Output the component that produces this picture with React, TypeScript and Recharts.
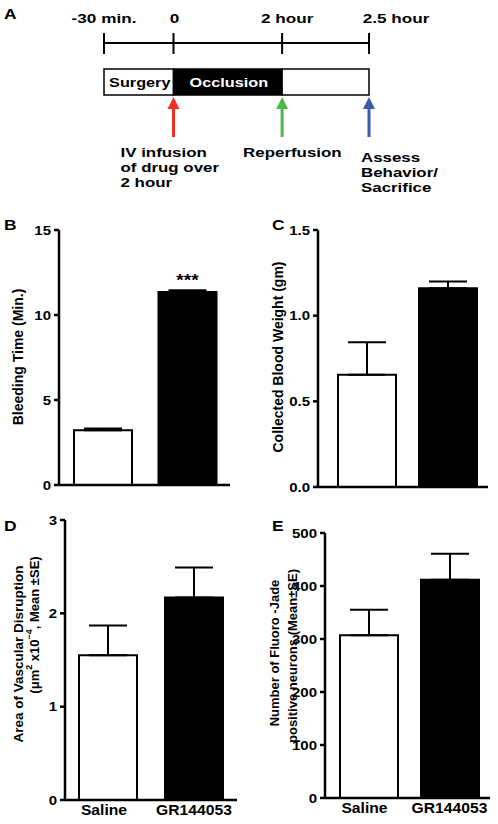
import React from "react";
import {
  BarChart,
  Bar,
  Cell,
  XAxis,
  YAxis,
  ErrorBar,
  LabelList,
  ComposedChart,
  ReferenceLine,
  ReferenceArea,
  ReferenceDot,
} from "recharts";

const FONT = '"Liberation Sans", Arial, Helvetica, sans-serif';

// Panel A: protocol timeline (schematic positions, not to scale)
const timeLabels = ["-30 min.", "0", "2 hour", "2.5 hour"];
const timePos = [0, 0.8, 2.05, 3.05];
const phaseNames = ["Surgery", "Occlusion", ""];
const phaseFills = ["#ffffff", "#000000", "#ffffff"];
const phaseText = ["#000000", "#ffffff", "#000000"];
const eventPos = [0.8, 2.05, 3.05];
const eventColors = ["#ee3124", "#4db848", "#3b5ba8"];
const eventText = [
  ["IV infusion", "of drug over", "2 hour"],
  ["Reperfusion"],
  ["Assess", "Behavior/", "Sacrifice"],
];

// Panels B-E
const groups = ["Saline", "GR144053"];
const groupFills = ["#ffffff", "#000000"];
const bleedingTime = [3.22, 11.35];
const bleedingTimeSE = [0.1, 0.1];
const bleedingSig = ["", "***"];
const bloodWeight = [0.655, 1.16];
const bloodWeightSE = [0.19, 0.04];
const vascularArea = [1.55, 2.17];
const vascularAreaSE = [0.32, 0.32];
const fjNeurons = [307, 412];
const fjNeuronsSE = [48, 49];

const axisStyle = { stroke: "#000", strokeWidth: 2.5 };

// the original figure is a bit stretched sideways, so horizontal text is widened
const SText = ({ x, y, sx = 1.25, size = 13, anchor = "middle", dy = 0, fill = "#000", children }: any) => (
  <text
    transform={`translate(${x},${y}) scale(${sx},1)`}
    dy={dy}
    textAnchor={anchor}
    fontSize={size}
    fontWeight={700}
    fontFamily={FONT}
    fill={fill}
  >
    {children}
  </text>
);

const Timeline = () => {
  const rows = timePos.map((p) => ({ pos: p }));
  const tickDx = [0, 1, 5, 27];
  const eventDx = [-53, -39, -8];
  const eventY = [157, 157, 162];
  return (
    <div style={{ position: "absolute", left: 0, top: 0 }}>
      <ComposedChart width={498} height={200} data={rows} margin={{ top: 0, right: 129, bottom: 0, left: 104 }}>
        <XAxis type="number" dataKey="pos" domain={[0, 3.05]} hide allowDataOverflow />
        <YAxis type="number" domain={[0, 200]} reversed hide allowDataOverflow />
        <ReferenceLine segment={[{ x: 0, y: 43 }, { x: 3.05, y: 43 }]} stroke="#000" strokeWidth={2} />
        {timePos.map((p, i) => (
          <ReferenceLine key={"t" + i} segment={[{ x: p, y: 33 }, { x: p, y: 54 }]} stroke="#000" strokeWidth={2} />
        ))}
        {timePos.map((p, i) => (
          <ReferenceDot
            key={"tl" + i}
            x={p}
            y={23}
            shape={(d: any) => (
              <SText x={d.cx + tickDx[i]} y={d.cy} sx={1.32}>
                {timeLabels[i]}
              </SText>
            )}
          />
        ))}
        {phaseNames.map((_name, i) => (
          <ReferenceArea
            key={"p" + i}
            x1={timePos[i]}
            x2={timePos[i + 1]}
            y1={69}
            y2={95}
            fill={phaseFills[i]}
            fillOpacity={1}
            stroke="#000"
            strokeWidth={1.5}
          />
        ))}
        {phaseNames.map((name, i) => (
          <ReferenceDot
            key={"pl" + i}
            x={(timePos[i] + timePos[i + 1]) / 2}
            y={87}
            shape={(d: any) => (
              <SText x={d.cx + 1} y={d.cy} sx={1.25} fill={phaseText[i]}>
                {name}
              </SText>
            )}
          />
        ))}
        {eventPos.map((p, i) => (
          <ReferenceLine key={"s" + i} segment={[{ x: p, y: 108 }, { x: p, y: 137 }]} stroke={eventColors[i]} strokeWidth={3} />
        ))}
        {eventPos.map((p, i) => (
          <ReferenceDot
            key={"h" + i}
            x={p}
            y={97}
            shape={(d: any) => (
              <polygon points={`${d.cx},${d.cy} ${d.cx - 6},${d.cy + 12} ${d.cx + 6},${d.cy + 12}`} fill={eventColors[i]} />
            )}
          />
        ))}
        {eventPos.map((p, i) => (
          <ReferenceDot
            key={"e" + i}
            x={p}
            y={eventY[i]}
            shape={(d: any) => (
              <g>
                {eventText[i].map((line, j) => (
                  <SText key={j} x={d.cx + eventDx[i]} y={d.cy + j * 15} sx={1.3} anchor="start">
                    {line}
                  </SText>
                ))}
              </g>
            )}
          />
        ))}
      </ComposedChart>
    </div>
  );
};

interface PanelProps {
  values: number[];
  se: number[];
  sig?: string[];
  ticks: number[];
  fmt?: (v: number) => string;
  left: number;
  top: number;
  width: number;
  height: number;
  mt: number;
  mr: number;
  mb: number;
  yWidth: number;
  showNames: boolean;
  padLeft: number;
}

const BarPanel: React.FC<PanelProps> = (p) => {
  const rows = groups.map((g, i) => ({
    group: g,
    value: p.values[i],
    err: [0, p.se[i]],
    sig: p.sig ? p.sig[i] : "",
  }));
  const fmt = p.fmt || ((v: number) => String(v));
  return (
    <div style={{ position: "absolute", left: p.left, top: p.top }}>
      <BarChart width={p.width} height={p.height} data={rows} margin={{ top: p.mt, right: p.mr, bottom: p.mb, left: 0 }}>
        <XAxis
          dataKey="group"
          height={p.showNames ? 24 : 30}
          axisLine={axisStyle}
          tickLine={false}
          tickSize={0}
          tickMargin={4}
          interval={0}
          padding={{ left: p.padLeft, right: 0 }}
          tick={
            p.showNames
              ? (t: any) => (
                  <SText x={t.x - (t.index === 0 ? 4 : 0)} y={t.y} dy={11} sx={1.12} size={14}>
                    {t.payload.value}
                  </SText>
                )
              : false
          }
        />
        <YAxis
          width={p.yWidth}
          domain={[p.ticks[0], p.ticks[p.ticks.length - 1]]}
          ticks={p.ticks}
          interval={0}
          axisLine={axisStyle}
          tickLine={axisStyle}
          tickSize={5}
          tickMargin={3}
          tick={(t: any) => (
            <SText x={t.x} y={t.y} dy={4.5} sx={1.2} size={12.5} anchor="end">
              {fmt(t.payload.value)}
            </SText>
          )}
        />
        <Bar dataKey="value" barSize={58} stroke="#000" strokeWidth={2} isAnimationActive={false}>
          {rows.map((_r, i) => (
            <Cell key={i} fill={groupFills[i]} />
          ))}
          <ErrorBar dataKey="err" width={19} stroke="#000" strokeWidth={2} direction="y" isAnimationActive={false} />
          {p.sig && (
            <LabelList
              dataKey="sig"
              content={(l: any) =>
                l.value ? (
                  <SText x={l.x + l.width / 2} y={l.y - 6} sx={1.2} size={16}>
                    {l.value}
                  </SText>
                ) : null
              }
            />
          )}
        </Bar>
      </BarChart>
    </div>
  );
};

const RotText = ({ x, y, size = 14, children }: any) => (
  <text
    transform={`translate(${x},${y}) rotate(-90)`}
    textAnchor="middle"
    dominantBaseline="central"
    fontSize={size}
    fontWeight={700}
    fontFamily={FONT}
    fill="#000"
  >
    {children}
  </text>
);

const Overlay = () => (
  <svg width={498} height={824} style={{ position: "absolute", left: 0, top: 0, pointerEvents: "none" }}>
    <SText x={4} y={19} size={14.5} sx={1.2} anchor="start">A</SText>
    <SText x={4} y={230} size={14.5} sx={1.2} anchor="start">B</SText>
    <SText x={272} y={230} size={14.5} sx={1.2} anchor="start">C</SText>
    <SText x={4} y={531} size={14.5} sx={1.2} anchor="start">D</SText>
    <SText x={272} y={531} size={14.5} sx={1.2} anchor="start">E</SText>
    <RotText x={18} y={357}>Bleeding Time (Min.)</RotText>
    <RotText x={278} y={357}>Collected Blood Weight (gm)</RotText>
    <RotText x={18} y={654} size={13.5}>Area of Vascular Disruption</RotText>
    <RotText x={34} y={625} size={13}>
      <tspan>(μm</tspan>
      <tspan dy={-5} fontSize={9}>2</tspan>
      <tspan dy={5}> x10</tspan>
      <tspan dy={-5} fontSize={9}>−4</tspan>
      <tspan dy={5}>, Mean ±SE)</tspan>
    </RotText>
    <RotText x={274} y={653} size={13}>Number of Fluoro -Jade</RotText>
    <RotText x={292} y={656} size={13}>positive neurons (Mean±SE)</RotText>
  </svg>
);

export default function App() {
  return (
    <div style={{ position: "absolute", left: 0, top: 0, width: 498, height: 824, background: "#fff", fontFamily: FONT }}>
      <Timeline />
      <BarPanel
        values={bleedingTime}
        se={bleedingTimeSE}
        sig={bleedingSig}
        ticks={[0, 5, 10, 15]}
        left={0}
        top={215}
        width={240}
        height={310}
        mt={15}
        mr={10}
        mb={10}
        yWidth={59}
        showNames={false}
        padLeft={2}
      />
      <BarPanel
        values={bloodWeight}
        se={bloodWeightSE}
        ticks={[0, 0.5, 1, 1.5]}
        fmt={(v) => v.toFixed(1)}
        left={250}
        top={215}
        width={248}
        height={312}
        mt={15}
        mr={10}
        mb={10}
        yWidth={68}
        showNames={false}
        padLeft={8}
      />
      <BarPanel
        values={vascularArea}
        se={vascularAreaSE}
        ticks={[0, 1, 2, 3]}
        left={0}
        top={505}
        width={247}
        height={319}
        mt={15}
        mr={10}
        mb={0}
        yWidth={65}
        showNames={true}
        padLeft={0}
      />
      <BarPanel
        values={fjNeurons}
        se={fjNeuronsSE}
        ticks={[0, 100, 200, 300, 400, 500]}
        left={250}
        top={515}
        width={248}
        height={309}
        mt={18}
        mr={8}
        mb={2}
        yWidth={75}
        showNames={true}
        padLeft={3}
      />
      <Overlay />
    </div>
  );
}
